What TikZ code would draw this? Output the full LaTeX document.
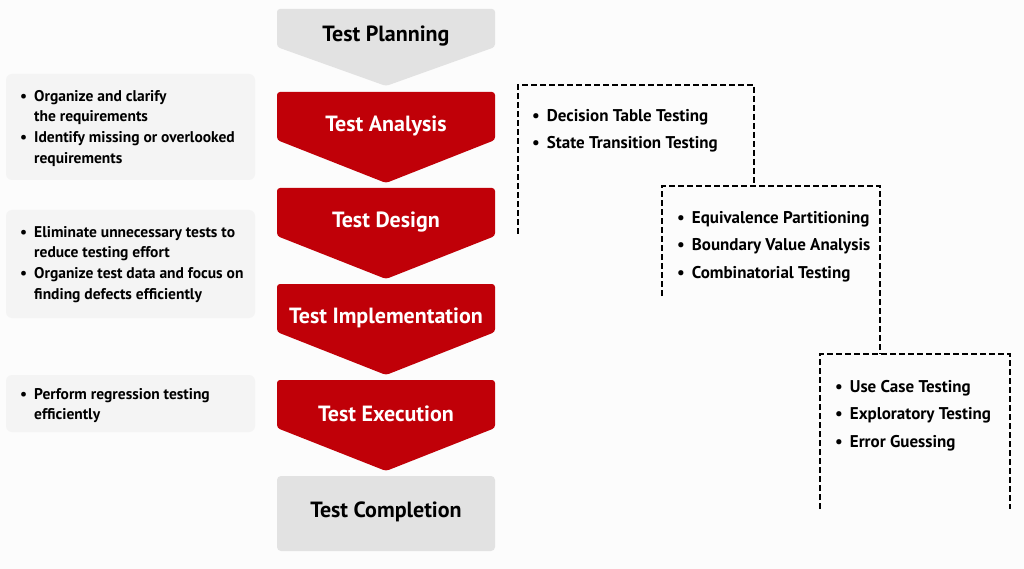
\documentclass[tikz,border=0pt]{standalone}
\usepackage{fontspec}
\setmainfont{PT Sans}
\usetikzlibrary{positioning}
\definecolor{stageRed}{RGB}{192, 0, 8}
\definecolor{stageGray}{RGB}{226, 226, 226}
\definecolor{noteFill}{RGB}{244, 244, 244}

\tikzset{
  stagetext/.style={font=\fontsize{22}{24}\selectfont\bfseries},
  notetext/.style={font=\fontsize{15.5}{20.6}\selectfont\bfseries, align=left,
    anchor=north west, inner sep=0pt},
  techtext/.style={font=\fontsize{17}{27.6}\selectfont\bfseries, align=left,
    anchor=north west, inner sep=0pt},
  notebox/.style={fill=noteFill, rounded corners=6pt},
  techframe/.style={line width=1.9pt, dash pattern=on 6pt off 3pt}
}
\newcommand{\bul}{\textbullet\hspace{7pt}}
\newcommand{\hang}{\phantom{\textbullet}\hspace{7pt}}

\begin{document}
\begin{tikzpicture}[x=1pt, y=-1pt]
  \useasboundingbox (0,0) rectangle (1024,569);
  \fill[white!99!black] (0,0) rectangle (1024,569);

  % Stages
  \fill[stageGray, rounded corners=3pt] (277,9) -- (495,9) -- (495,47)
    -- (386,86) -- (277,47) -- cycle;
  \node[stagetext] (planning) at (386,36) {Test Planning};

  \foreach \stg/\lbl/\ytop in {analysis/Test Analysis/92, design/Test Design/188,
      impl/Test Implementation/284, exec/Test Execution/380} {
    \fill[stageRed, rounded corners=3pt] (277,\ytop) -- (495,\ytop)
      -- (495,\ytop+48) -- (386,\ytop+91) -- (277,\ytop+48) -- cycle;
    \node[stagetext, text=white] (\stg) at (386,\ytop+34) {\lbl};
  }

  \fill[stageGray, rounded corners=4pt] (277,476) rectangle (495,551);
  \node[stagetext] (completion) at (386,512) {Test Completion};

  % Notes on the left
  \fill[notebox] (6,74) rectangle (255,180);
  \fill[notebox] (6,210) rectangle (255,318);
  \fill[notebox] (6,375) rectangle (255,432);

  \node[notetext] (noteA) at (20,90) {\bul Organize and clarify\\
    \hang the requirements\\ \bul Identify missing or overlooked\\
    \hang requirements};
  \node[notetext] (noteB) at (20,226) {\bul Eliminate unnecessary tests to\\
    \hang reduce testing effort\\ \bul Organize test data and focus on\\
    \hang finding defects efficiently};
  \node[notetext] (noteC) at (20,388) {\bul Perform regression testing\\
    \hang efficiently};

  % Techniques
  \draw[techframe] (518,234) -- (518,85) -- (754,85) -- (754,186);
  \draw[techframe] (662,296) -- (662,186) -- (880,186) -- (880,354);
  \draw[techframe] (820,509) -- (820,354) -- (1010,354) -- (1010,509);

  \node[techtext] (techA) at (532,109) {\bul Decision Table Testing\\
    \bul State Transition Testing};
  \node[techtext] (techB) at (677,211) {\bul Equivalence Partitioning\\
    \bul Boundary Value Analysis\\ \bul Combinatorial Testing};
  \node[techtext] (techC) at (835,380) {\bul Use Case Testing\\
    \bul Exploratory Testing\\ \bul Error Guessing};
\end{tikzpicture}
\end{document}
